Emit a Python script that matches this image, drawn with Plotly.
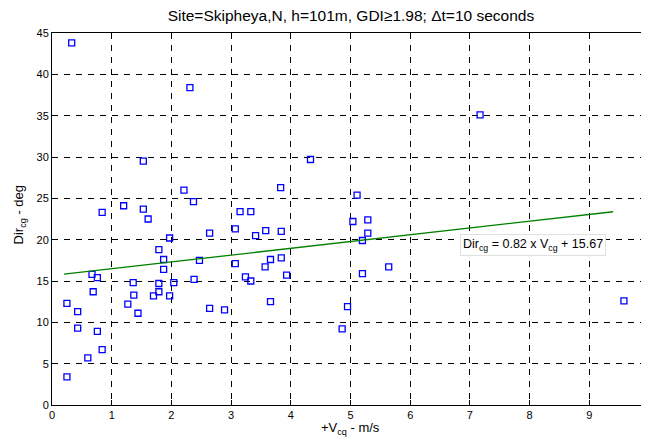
import plotly.graph_objects as go

# Data
vcg = [0.33, 2.31, 1.53, 0.84, 1.20, 1.53, 1.61, 2.21, 2.37, 1.97, 1.79, 1.87, 1.87,
       2.47, 2.64, 3.07, 3.15, 3.07, 0.67, 0.76, 1.36, 1.79, 2.04, 2.38,
       0.25, 0.43, 0.43, 0.69, 0.76, 0.84, 0.60, 0.25, 1.37, 1.27, 1.44, 1.79, 1.70,
       1.97, 2.64, 2.89,
       4.33, 3.83, 5.11, 3.33, 3.41, 3.58, 3.84, 5.04, 5.29, 5.29, 5.20, 3.66, 3.84,
       3.57, 3.24, 3.33, 3.93, 5.20, 5.64, 3.66, 4.95, 4.86, 7.17, 9.58]
dircg = [43.8, 38.4, 29.5, 23.3, 24.1, 23.7, 22.5, 26.0, 24.6, 20.2, 18.8, 17.6, 16.4,
         17.5, 20.8, 21.3, 23.4, 17.1, 15.8, 15.4, 14.8, 14.7, 14.8, 15.2,
         12.3, 11.3, 9.3, 13.7, 8.9, 6.7, 5.7, 3.4, 13.3, 12.2, 11.1, 13.7, 13.2,
         13.2, 11.7, 11.5,
         29.7, 26.3, 25.4, 23.4, 20.5, 21.1, 21.0, 22.2, 22.4, 20.8, 19.9, 17.6, 17.8,
         16.7, 15.5, 15.0, 15.7, 15.9, 16.7, 12.5, 11.9, 9.2, 35.1, 12.6]

slope = 0.82
intercept = 15.67
fit_x = [0.2, 9.4]
fit_y = [slope * v + intercept for v in fit_x]

x_ticks = list(range(0, 11))
y_ticks = list(range(0, 46, 5))

font = "Liberation Sans, Arial, sans-serif"

fig = go.Figure()
fig.add_trace(go.Scatter(
    x=vcg, y=dircg, mode="markers",
    marker=dict(symbol="square-open", size=6, color="#0000ff", line=dict(width=1.3, color="#0000ff")),
    showlegend=False, hoverinfo="skip"))
fig.add_trace(go.Scatter(
    x=fit_x, y=fit_y, mode="lines",
    line=dict(color="#008000", width=1.3),
    showlegend=False, hoverinfo="skip"))

axis_common = dict(
    showline=True, linecolor="black", linewidth=1, mirror=True,
    ticks="inside", ticklen=5, tickcolor="black", automargin=False,
    showgrid=True, gridcolor="black", gridwidth=1, griddash="6px,6px",
    zeroline=False, tickfont=dict(family=font, size=11, color="black"))

fig.update_xaxes(range=[0, 10], tickvals=x_ticks, ticklabeloverflow="allow", **axis_common)
fig.update_yaxes(range=[0, 45], tickvals=y_ticks, **axis_common)

# page body has an 8px margin: size the figure so the page matches 649x439
fig.update_layout(
    width=641, height=431,
    margin=dict(l=44, r=0, t=25, b=34, autoexpand=False),
    paper_bgcolor="white", plot_bgcolor="white",
    font=dict(family=font, color="black"),
    title=dict(text="Site=Skipheya,N, h=101m, GDI\u22651.98; \u0394t=10 seconds",
               x=0.535, xanchor="center", y=0.982, yanchor="middle",
               font=dict(family=font, size=15.5, color="black")),
    annotations=[
        dict(text="+V<sub>cq</sub> - m/s", xref="paper", yref="paper",
             x=0.5, y=-0.062, xanchor="center", yanchor="middle", showarrow=False,
             font=dict(family=font, size=13, color="black")),
        dict(text="Dir<sub>cg</sub> - deg", xref="paper", yref="paper",
             x=-0.055, y=0.51, xanchor="center", yanchor="middle", showarrow=False,
             textangle=-90, font=dict(family=font, size=13, color="black")),
        dict(text="Dir<sub>cg</sub> = 0.82 x V<sub>cg</sub> + 15.67", xref="x", yref="y",
             x=8.05, y=19.3, xanchor="center", yanchor="middle", showarrow=False,
             bgcolor="white", bordercolor="#e0e0e0", borderwidth=1, borderpad=2,
             font=dict(family=font, size=12.5, color="black")),
    ],
)

fig.write_html("out.html")
